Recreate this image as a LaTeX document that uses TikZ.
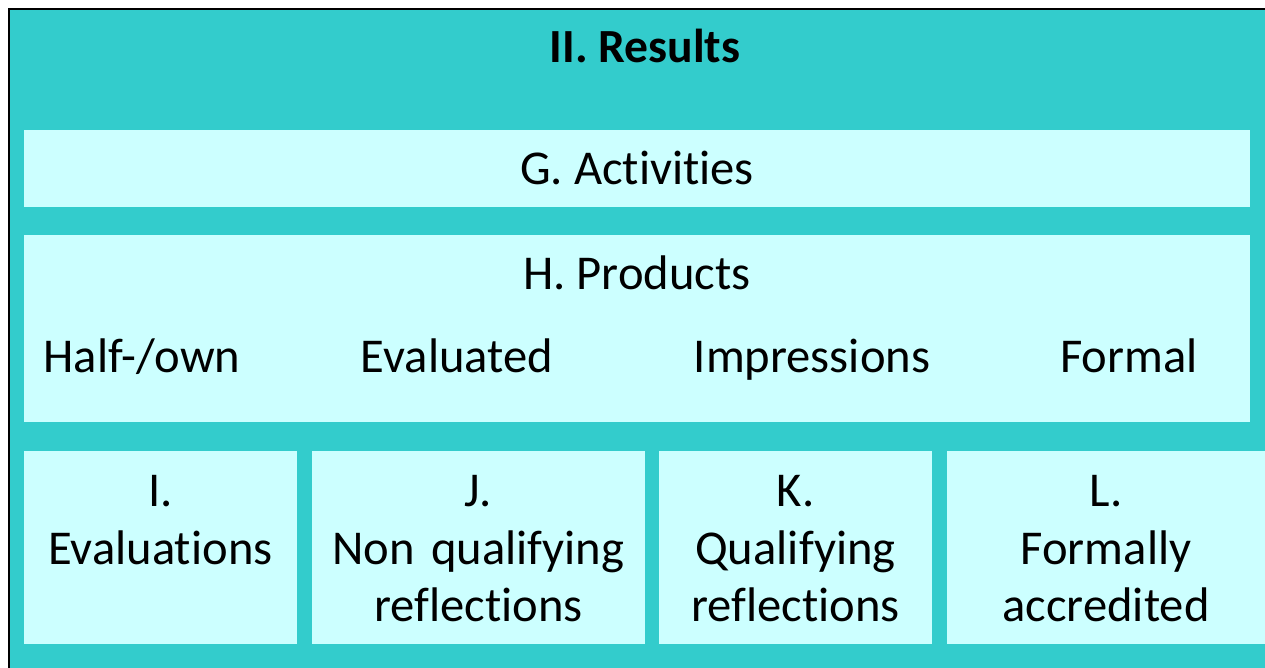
\documentclass[tikz,border=0pt]{standalone}
\usepackage{fontspec}
\setmainfont[Ligatures=NoCommon]{Carlito}
\definecolor{teal1}{HTML}{33CCCC}
\definecolor{light1}{HTML}{CCFFFF}
\begin{document}
\begin{tikzpicture}[x=0.5pt,y=-0.5pt,
  lbox/.style={fill=light1, draw=none, inner sep=0pt, outer sep=0pt},
  txt/.style={font=\fontsize{24.3}{29}\selectfont, inner sep=0pt, anchor=base, align=center},
  btxt/.style={txt, font=\fontsize{23.8}{29}\selectfont\bfseries}]
\useasboundingbox (0,0) rectangle (1265,668);
\begin{scope}
\clip (0,0) rectangle (1265,668);
\draw[fill=teal1, line width=1pt] (9,9) rectangle (1320,720);
\end{scope}
% boxes
\path[lbox] (24,130) rectangle (1250,207);
\path[lbox] (24,235) rectangle (1250,422);
\path[lbox] (24,451) rectangle (297,644);
\path[lbox] (312,451) rectangle (645,644);
\path[lbox] (659,451) rectangle (932,644);
\path[lbox] (947,451) rectangle (1265,644);
% texts
\node[btxt] (title) at (645,63) {II. Results};
\node[txt] (g) at (637,185) {G. Activities};
\node[txt] (h) at (637,290) {H. Products};
\node[txt] (h1) at (142,373) {Half-/own};
\node[txt] (h2) at (457,373) {Evaluated};
\node[txt] (h3) at (812,373) {Impressions};
\node[txt] (h4) at (1129,373) {Formal};
\node[txt, text width=130pt] (i) at (160.5,506) {I.\\Evaluations};
\node[txt, text width=160pt] (j) at (478.5,506) {J.\\Non qualifying\\reflections};
\node[txt, text width=130pt] (k) at (795.5,506) {K.\\Qualifying\\reflections};
\node[txt, text width=150pt] (l) at (1106,506) {L.\\Formally\\accredited};
\end{tikzpicture}
\end{document}
